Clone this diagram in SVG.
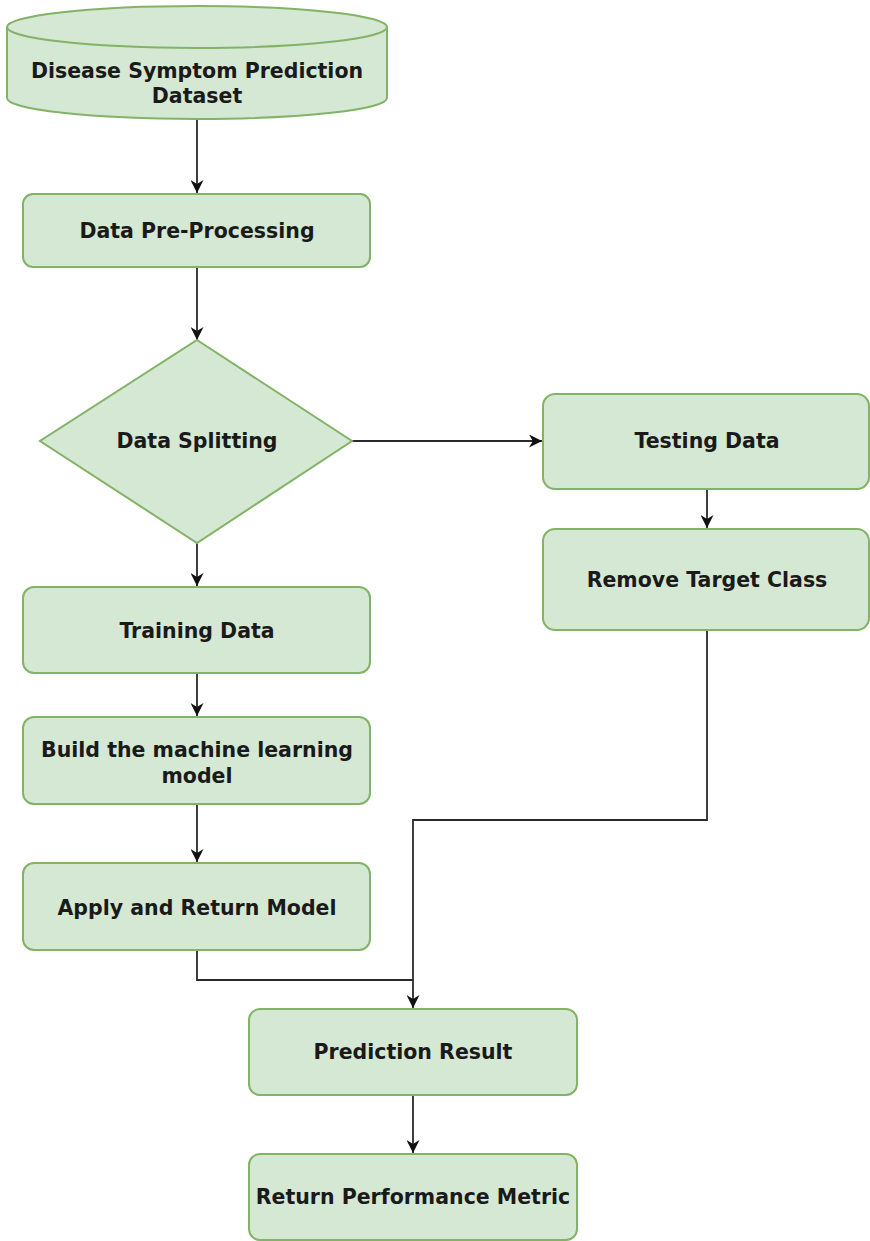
<svg xmlns="http://www.w3.org/2000/svg" width="870" height="1241" viewBox="0 0 870 1241">
<defs>
<style>
.n{fill:#d5e8d4;stroke:#82b366;stroke-width:2}
.t{font-family:"DejaVu Sans",sans-serif;font-weight:bold;font-size:20.5px;fill:#1a1a1a;text-anchor:middle;dominant-baseline:central}
.c{fill:none;stroke:#2a2a2a;stroke-width:1.8}
</style>
<marker id="a" viewBox="0 0 10 10" refX="10" refY="5" markerWidth="13" markerHeight="13" markerUnits="userSpaceOnUse" orient="auto">
<path d="M0,0 L10,5 L0,10 L3,5 Z" fill="#111"/>
</marker>
</defs>
<rect width="870" height="1241" fill="#fff"/>
<g id="connectors">
<line class="c" x1="197" y1="120" x2="197" y2="193" marker-end="url(#a)"/>
<line class="c" x1="197" y1="267" x2="197" y2="340" marker-end="url(#a)"/>
<line class="c" x1="352" y1="441" x2="542" y2="441" marker-end="url(#a)"/>
<line class="c" x1="707" y1="489" x2="707" y2="528" marker-end="url(#a)"/>
<polyline class="c" points="707,630 707,820 413,820 413,1008" marker-end="url(#a)"/>
<line class="c" x1="197" y1="543" x2="197" y2="586" marker-end="url(#a)"/>
<line class="c" x1="197" y1="673" x2="197" y2="716" marker-end="url(#a)"/>
<line class="c" x1="197" y1="804" x2="197" y2="862" marker-end="url(#a)"/>
<polyline class="c" points="197,950 197,980 413,980"/>
<line class="c" x1="413" y1="1095" x2="413" y2="1153" marker-end="url(#a)"/>
</g>
<g id="dataset">
<path class="n" d="M7,27 A190,21 0 0 1 387,27 L387,98 A190,21 0 0 1 7,98 Z"/>
<path class="n" style="fill:none" d="M7,27 A190,21 0 0 0 387,27"/>
<text class="t" x="197" y="71">Disease Symptom Prediction</text>
<text class="t" x="197" y="96">Dataset</text>
</g>
<g id="preprocessing">
<rect class="n" x="23" y="194" width="347" height="73" rx="10"/>
<text class="t" x="197" y="231">Data Pre-Processing</text>
</g>
<g id="splitting">
<polygon class="n" points="197,340 352,441 197,543 40,441"/>
<text class="t" x="197" y="441">Data Splitting</text>
</g>
<g id="testing">
<rect class="n" x="543" y="394" width="326" height="95" rx="12"/>
<text class="t" x="707" y="441">Testing Data</text>
</g>
<g id="remove">
<rect class="n" x="543" y="529" width="326" height="101" rx="12"/>
<text class="t" x="707" y="580">Remove Target Class</text>
</g>
<g id="training">
<rect class="n" x="23" y="587" width="347" height="86" rx="11"/>
<text class="t" x="197" y="631">Training Data</text>
</g>
<g id="build">
<rect class="n" x="23" y="717" width="347" height="87" rx="11"/>
<text class="t" x="197" y="750">Build the machine learning</text>
<text class="t" x="197" y="776">model</text>
</g>
<g id="apply">
<rect class="n" x="23" y="863" width="347" height="87" rx="11"/>
<text class="t" x="197" y="908">Apply and Return Model</text>
</g>
<g id="prediction">
<rect class="n" x="249" y="1009" width="328" height="86" rx="11"/>
<text class="t" x="413" y="1052">Prediction Result</text>
</g>
<g id="metric">
<rect class="n" x="249" y="1154" width="328" height="86" rx="11"/>
<text class="t" x="413" y="1197">Return Performance Metric</text>
</g>
</svg>
